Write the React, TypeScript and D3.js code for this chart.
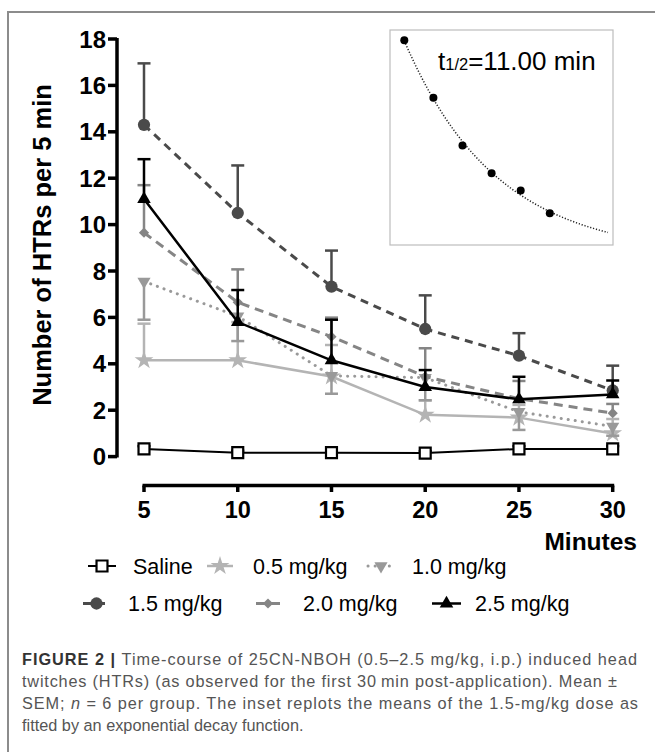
import React from 'react';
import * as d3 from 'd3';

// time points (min)
const minutes = [5, 10, 15, 20, 25, 30];

// group means / SEM (HTRs per 5 min)
const salineMean = [0.33, 0.17, 0.17, 0.15, 0.33, 0.33];
const salineSem = [0.12, 0.08, 0.08, 0.08, 0.12, 0.12];
const dose05Mean = [4.15, 4.15, 3.45, 1.8, 1.68, 1.0];
const dose05Sem = [1.58, 1.65, 1.36, 0.62, 0.55, 0.62];
const dose10Mean = [7.55, 6.05, 3.48, 3.4, 1.93, 1.3];
const dose10Sem = [1.65, 1.07, 0.77, 0.97, 0.78, 0.4];
const dose15Mean = [14.3, 10.5, 7.33, 5.5, 4.35, 2.85];
const dose15Sem = [2.65, 2.05, 1.55, 1.45, 0.97, 1.07];
const dose20Mean = [9.65, 6.65, 5.17, 3.45, 2.5, 1.87];
const dose20Sem = [2.05, 1.42, 0.82, 1.22, 0.76, 0.4];
const dose25Mean = [11.1, 5.8, 4.15, 3.0, 2.47, 2.68];
const dose25Sem = [1.72, 1.38, 1.75, 0.73, 0.97, 0.6];

const yTicks = [0, 2, 4, 6, 8, 10, 12, 14, 16, 18];
const halfLife = 11.0;

const captionLines = [
  'Time-course of 25CN-NBOH (0.5–2.5 mg/kg, i.p.) induced head',
  'twitches (HTRs) (as observed for the first 30\u2009min post-application). Mean ±',
  'SEM; ',
  'fitted by an exponential decay function.',
];

// styles for each group, in legend order
const groups = [
  { name: 'Saline', mean: salineMean, sem: salineSem, dir: 1, color: '#000', width: 2, dash: null, symbol: 'square' },
  { name: '0.5 mg/kg', mean: dose05Mean, sem: dose05Sem, dir: 1, color: '#b4b4b4', width: 2.5, dash: null, symbol: 'star' },
  { name: '1.0 mg/kg', mean: dose10Mean, sem: dose10Sem, dir: -1, color: '#999', width: 3, dash: '0.1,7', symbol: 'triDown' },
  { name: '1.5 mg/kg', mean: dose15Mean, sem: dose15Sem, dir: 1, color: '#4a4a4a', width: 3, dash: '8,6', symbol: 'circle' },
  { name: '2.0 mg/kg', mean: dose20Mean, sem: dose20Sem, dir: 1, color: '#858585', width: 3, dash: '9,6', symbol: 'diamond' },
  { name: '2.5 mg/kg', mean: dose25Mean, sem: dose25Sem, dir: 1, color: '#000', width: 2.5, dash: null, symbol: 'triangle' },
];

// legend layout: [lineStart, lineEnd, textX, row]
const legendLayout = [
  [88, 116, 133, 0],
  [207, 233, 253, 0],
  [368, 394, 412, 0],
  [83, 110, 128, 1],
  [256, 280, 303, 1],
  [432, 461, 475, 1],
];

function Marker({ kind, cx, cy, color }) {
  const t = `translate(${cx},${cy})`;
  if (kind === 'square')
    return <path d={d3.symbol(d3.symbolSquare, 120)()} transform={t} fill="#fff" stroke="#000" strokeWidth={2.2} />;
  if (kind === 'circle')
    return <path d={d3.symbol(d3.symbolCircle, 118)()} transform={t} fill={color} />;
  if (kind === 'star')
    return <path d={d3.symbol(d3.symbolStar, 110)()} transform={t} fill={color} />;
  if (kind === 'triangle')
    return <path d={d3.symbol(d3.symbolTriangle, 80)()} transform={t} fill={color} />;
  if (kind === 'triDown')
    return <path d={d3.symbol(d3.symbolTriangle, 75)()} transform={`${t} rotate(180)`} fill={color} />;
  return <path d={d3.symbol(d3.symbolSquare, 52)()} transform={`${t} rotate(45)`} fill={color} />;
}

export default function App() {
  const x = d3.scaleLinear().domain([5, 30]).range([144, 612.7]);
  const y = d3.scaleLinear().domain([0, 18]).range([456.6, 39]);

  // inset: 1.5 mg/kg means with exponential decay fit
  const xi = d3.scaleLinear().domain([5, 40]).range([404.3, 608]);
  const yi = d3.scaleLinear().domain([0, 15]).range([256.2, 29.7]);
  const k = Math.LN2 / halfLife;
  const amp = d3.sum(minutes, (t, i) => dose15Mean[i] * Math.exp(-k * t)) / d3.sum(minutes, t => Math.exp(-2 * k * t));
  const fitLine = d3.line<number>().x(t => xi(t)).y(t => yi(amp * Math.exp(-k * t)));
  const fitT = d3.range(5, 40.01, 0.5);

  const line = d3.line<number>().x((_, i) => x(minutes[i])).y(v => y(v));
  const font = 'Arial, "Liberation Sans", Helvetica, sans-serif';

  return (
    <svg width={655} height={752} style={{ display: 'block', position: 'absolute', left: 0, top: 0 }} fontFamily={font}>
      <rect width={655} height={752} fill="#fff" />
      {/* frame */}
      <path d="M8,760V12H660" fill="none" stroke="#8c8c8c" strokeWidth={2} />

      {/* inset */}
      <rect x={390} y={30} width={223} height={215} fill="none" stroke="#bdbdbd" strokeWidth={1.2} />
      <path d={fitLine(fitT)} fill="none" stroke="#222" strokeWidth={1.5} strokeDasharray="1.2,1.8" />
      {minutes.map((t, i) => (
        <circle key={t} cx={xi(t)} cy={yi(dose15Mean[i])} r={4} fill="#000" />
      ))}
      <text x={438} y={70} fontSize={26}>
        t<tspan fontSize={16.5}>1/2</tspan>=11.00 min
      </text>

      {/* y axis */}
      <line x1={117} x2={117} y1={y(18) - 1} y2={y(0) + 1} stroke="#000" strokeWidth={3.5} />
      {yTicks.map(v => (
        <g key={v}>
          <line x1={108} x2={117} y1={y(v)} y2={y(v)} stroke="#000" strokeWidth={3.5} />
          <text x={106} y={y(v)} dy="0.36em" textAnchor="end" fontSize={24} fontWeight="bold">{v}</text>
        </g>
      ))}
      <text transform="translate(42,245) rotate(-90)" textAnchor="middle" dominantBaseline="central" fontSize={25.5} fontWeight="bold">
        Number of HTRs per 5 min
      </text>

      {/* x axis */}
      <line x1={x(5) - 1.5} x2={x(30) + 1.5} y1={485.5} y2={485.5} stroke="#000" strokeWidth={3.5} />
      {minutes.map(t => (
        <g key={t}>
          <line x1={x(t)} x2={x(t)} y1={485.5} y2={492} stroke="#000" strokeWidth={3.5} />
          <text x={x(t)} y={518} textAnchor="middle" fontSize={23.5} fontWeight="bold">{t}</text>
        </g>
      ))}
      <text x={637} y={550} textAnchor="end" fontSize={24.5} fontWeight="bold">Minutes</text>

      {/* series */}
      {groups.map(g => (
        <g key={g.name}>
          {g.mean.map((m, i) => {
            const end = m + g.dir * g.sem[i];
            return (
              <g key={i} stroke={g.color} strokeWidth={2.5}>
                <line x1={x(minutes[i])} x2={x(minutes[i])} y1={y(m)} y2={y(end)} />
                <line x1={x(minutes[i]) - 6.5} x2={x(minutes[i]) + 6.5} y1={y(end)} y2={y(end)} />
              </g>
            );
          })}
          <path d={line(g.mean)} fill="none" stroke={g.color} strokeWidth={g.width}
            strokeDasharray={g.dash || undefined} strokeLinecap={g.symbol === 'triDown' ? 'round' : 'butt'} />
          {g.mean.map((m, i) => (
            <Marker key={i} kind={g.symbol} cx={x(minutes[i])} cy={y(m)} color={g.color} />
          ))}
        </g>
      ))}

      {/* legend */}
      {groups.map((g, j) => {
        const [a, b, tx, row] = legendLayout[j];
        const cy = row === 0 ? 566 : 603.5;
        return (
          <g key={g.name}>
            <line x1={a} x2={b} y1={cy} y2={cy} stroke={g.color} strokeWidth={g.width}
              strokeDasharray={g.dash || undefined} strokeLinecap={g.symbol === 'triDown' ? 'round' : 'butt'} />
            <Marker kind={g.symbol} cx={(a + b) / 2} cy={cy} color={g.color} />
            <text x={tx} y={cy + 7.8} fontSize={21.5} fill="#000">{g.name}</text>
          </g>
        );
      })}

      {/* caption */}
      <g fontSize={16.3} fill="#555">
        <text x={22} y={665} textLength={615} lengthAdjust="spacing">
          <tspan fontWeight="bold" fill="#333">FIGURE 2 | </tspan>{captionLines[0]}
        </text>
        <text x={22} y={687} textLength={595} lengthAdjust="spacing">{captionLines[1]}</text>
        <text x={22} y={709} textLength={616} lengthAdjust="spacing">
          {captionLines[2]}<tspan fontStyle="italic">n</tspan> = 6 per group. The inset replots the means of the 1.5-mg/kg dose as
        </text>
        <text x={22} y={731}>{captionLines[3]}</text>
      </g>
    </svg>
  );
}
